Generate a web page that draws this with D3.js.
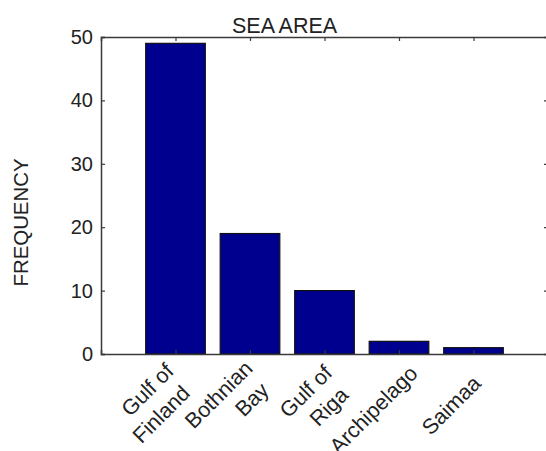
<!DOCTYPE html>
<html>
<head>
<meta charset="utf-8">
<script src="https://cdn.jsdelivr.net/npm/d3@7"></script>
<style>
  html, body { margin: 0; padding: 0; background: #fff; }
  svg { display: block; }
  text { font-family: "Liberation Sans", Arial, sans-serif; fill: #222; }
</style>
</head>
<body>
<svg id="chart" width="546" height="451"></svg>
<script>
// Frequency of observations per sea area
const categories = [["Gulf of", "Finland"], ["Bothnian", "Bay"], ["Gulf of", "Riga"], ["Archipelago"], ["Saimaa"]];
const frequencies = [49, 19, 10, 2, 1];
const yTicks = [0, 10, 20, 30, 40, 50];
const titleText = "SEA AREA";
const yLabelText = "FREQUENCY";

// Layout: where each rotated label block ends, relative to its tick on the x axis
const labelNudge = [[-0.5, 18.6], [3.9, 15.7], [8.9, 20.3], [19.9, 20.7], [8.7, 30.7]];

const svg = d3.select("#chart");
const plot = { left: 101, top: 37, right: 548, bottom: 354 };

// Category positions 1..n on a linear axis from 0 to n+1, bars 0.8 units wide
const x = d3.scaleLinear().domain([0, categories.length + 1]).range([plot.left, plot.right]);
const y = d3.scaleLinear().domain([0, 50]).range([plot.bottom, plot.top]);
const barW = 0.8;
const axisColor = "#3a3a3a";

// Bars
svg.append("g").selectAll("rect")
  .data(frequencies)
  .join("rect")
  .attr("x", (d, i) => x(i + 1 - barW / 2))
  .attr("y", d => y(d))
  .attr("width", (d, i) => x(i + 1 + barW / 2) - x(i + 1 - barW / 2))
  .attr("height", d => y(0) - y(d))
  .attr("fill", "#00008f")
  .attr("stroke", "#111")
  .attr("stroke-width", 1.2);

// Box with inward ticks
const cats = d3.range(1, categories.length + 1);
const axisLeft = d3.axisLeft(y).tickValues(yTicks).tickSize(-4).tickPadding(8).tickFormat(d3.format("d"));
const axisRight = d3.axisRight(y).tickValues(yTicks).tickSize(-4).tickFormat("");
const axisTop = d3.axisTop(x).tickValues(cats).tickSize(-4).tickFormat("");
const axisBottom = d3.axisBottom(x).tickValues(cats).tickSize(-4).tickFormat("");

function style(g) {
  g.selectAll("path.domain").attr("stroke", axisColor).attr("stroke-width", 1.5);
  g.selectAll(".tick line").attr("stroke", axisColor).attr("stroke-width", 1.2);
  g.selectAll(".tick text").attr("font-size", 20).attr("font-family", "Liberation Sans, Arial, sans-serif").attr("fill", "#222");
}
svg.append("g").attr("transform", `translate(${plot.left},0)`).call(axisLeft).call(style);
svg.append("g").attr("transform", `translate(${plot.right},0)`).call(axisRight).call(style);
svg.append("g").attr("transform", `translate(0,${plot.top})`).call(axisTop).call(style);
svg.append("g").attr("transform", `translate(0,${plot.bottom})`).call(axisBottom).call(style);

// Rotated category labels, lines right-aligned, the second line stepped below the first
const labels = svg.append("g");
categories.forEach((lines, i) => {
  const [dx, dy] = labelNudge[i];
  const g = labels.append("g")
    .attr("transform", `translate(${x(i + 1) + dx},${plot.bottom + dy}) rotate(-45)`);
  lines.forEach((t, j) => {
    g.append("text")
      .attr("x", j * -4)
      .attr("y", j * 27)
      .attr("text-anchor", "end")
      .attr("font-size", 21.5)
      .text(t);
  });
});

// Title and y-axis label
svg.append("text")
  .attr("x", 284.6).attr("y", 33)
  .attr("text-anchor", "middle")
  .attr("font-size", 21.5)
  .text(titleText);

svg.append("text")
  .attr("transform", "translate(28,222.5) rotate(-90)")
  .attr("text-anchor", "middle")
  .attr("font-size", 20.4)
  .text(yLabelText);
</script>
</body>
</html>
